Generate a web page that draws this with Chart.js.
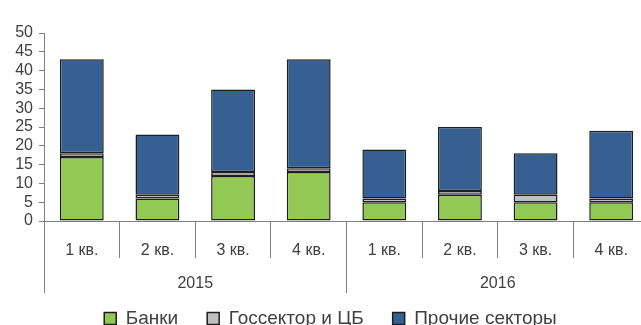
<!DOCTYPE html>
<html>
<head>
<meta charset="utf-8">
<script src="https://cdn.jsdelivr.net/npm/chart.js@4/dist/chart.umd.min.js"></script>
<style>
  html, body { margin: 0; padding: 0; overflow: hidden; background: #fff; }
  #wrap { position: relative; width: 660px; height: 338px; }
</style>
</head>
<body>
<div id="wrap"><canvas id="chart"></canvas></div>
<script>
const quarters = ['1 кв.', '2 кв.', '3 кв.', '4 кв.', '1 кв.', '2 кв.', '3 кв.', '4 кв.']
const years = ['2015', '2016']
const banks = [17, 6, 12, 13, 5, 7, 5, 5]
const government = [1, 1, 1, 1, 1, 1, 2, 1]
const otherSectors = [25, 16, 22, 29, 13, 17, 11, 18]
const yMax = 50
const yStep = 5

const lineColor = '#7f7f7f'
const textColor = '#404040'
const font = {family: "'Liberation Sans', Arial, sans-serif", size: 16}

const dataset = (label, values, color) => ({
    label: label,
    data: values,
    backgroundColor: color,
    borderColor: '#1e1e1e',
    borderWidth: 1.5,
    borderSkipped: false,
    categoryPercentage: 1,
    barPercentage: 0.58
})

const config = {
    type: 'bar',
    data: {
        labels: quarters,
        datasets: [
            dataset('Банки', banks, '#92c955'),
            dataset('Госсектор и ЦБ', government, '#bfbfbf'),
            dataset('Прочие секторы', otherSectors, '#366092')
        ]
    },
    options: {
        responsive: true,
        maintainAspectRatio: false,
        animation: false,
        layout: {padding: {top: 33, right: 11, left: 12, bottom: 0}},
        scales: {
            x: {
                stacked: true,
                offset: true,
                grid: {offset: true, drawOnChartArea: false, color: lineColor, tickLength: 37},
                border: {color: lineColor},
                ticks: {color: textColor, font: font, padding: -17, maxRotation: 0, autoSkip: false},
                afterFit: (scale) => { scale.height = 37 }
            },
            x2: {
                type: 'category',
                labels: years,
                position: 'bottom',
                offset: true,
                grid: {offset: true, drawOnChartArea: false, color: lineColor, tickLength: 35},
                border: {display: false},
                // mirrored so the labels are not clipped to this short box
                ticks: {color: textColor, font: font, mirror: true, padding: -35, maxRotation: 0},
                afterFit: (scale) => { scale.height = 22 }
            },
            y: {
                stacked: true,
                min: 0,
                max: yMax,
                grid: {drawOnChartArea: false, color: lineColor, tickLength: 5},
                border: {color: lineColor},
                ticks: {color: textColor, font: font, padding: 6, stepSize: yStep, autoSkip: false},
                afterFit: (scale) => { scale.width = 32 }
            }
        },
        plugins: {
            tooltip: {enabled: false},
            legend: {
                position: 'bottom',
                labels: {
                    color: textColor,
                    font: {family: font.family, size: 19},
                    boxWidth: 12,
                    boxHeight: 12,
                    padding: 29
                }
            }
        }
    }
}

new Chart(document.getElementById('chart'), config)
</script>
</body>
</html>
